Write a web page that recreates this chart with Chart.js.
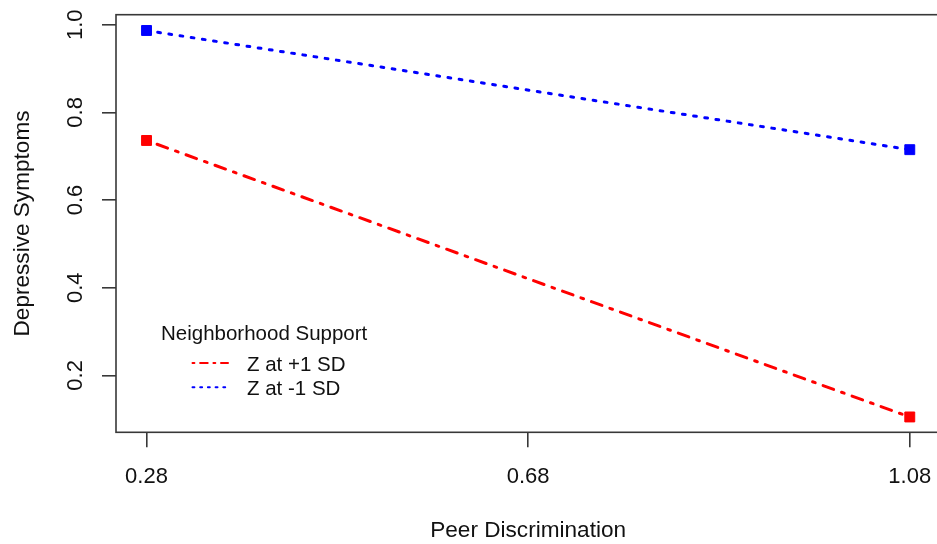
<!DOCTYPE html>
<html><head><meta charset="utf-8">
<script src="https://cdn.jsdelivr.net/npm/chart.js@4.4.1/dist/chart.umd.min.js"></script>
<style>
html,body{margin:0;padding:0;background:#fff;overflow:hidden}
#wrap{width:937px;height:544px;overflow:hidden;position:relative}
canvas{display:block}
</style></head>
<body><div id="wrap"><canvas id="c" width="950" height="544"></canvas></div>
<script>
const xValues = [0.28, 1.08];
const plusOneSD = [0.736, 0.105];
const minusOneSD = [0.987, 0.715];
const xTickValues = [0.28, 0.68, 1.08];
const xTickLabels = ['0.28', '0.68', '1.08'];
const yTickValues = [0.2, 0.4, 0.6, 0.8, 1.0];
const yTickLabels = ['0.2', '0.4', '0.6', '0.8', '1.0'];
const seriesLabels = ['Z at +1 SD', 'Z at -1 SD'];
const legendTitle = 'Neighborhood Support';
const xTitle = 'Peer Discrimination';
const yTitle = 'Depressive Symptoms';

const FONT = '"Liberation Sans", Arial, Helvetica, sans-serif';
const INK = '#111';
const BOX = '#383838';

const redDash = [2.8, 8.4, 11.2, 8.4];
const blueDash = [2.8, 8.5];
const redLegendDash = [1.9, 5.7, 7.6, 5.7];
const blueLegendDash = [1.9, 5.8];

const rPlugin = {
  id: 'rstyle',
  afterDraw(chart) {
    const ctx = chart.ctx, ca = chart.chartArea;
    const xs = chart.scales.x, ys = chart.scales.y;
    ctx.save();
    ctx.strokeStyle = BOX; ctx.lineWidth = 1.6;
    ctx.strokeRect(ca.left, ca.top, ca.right - ca.left, ca.bottom - ca.top);
    ctx.fillStyle = INK;
    ctx.font = '22px ' + FONT;
    ctx.textBaseline = 'alphabetic';
    ctx.textAlign = 'center';
    xTickValues.forEach((v, i) => ctx.fillText(xTickLabels[i], xs.getPixelForValue(v), ca.bottom + 50.4));
    yTickValues.forEach((v, i) => {
      ctx.save();
      ctx.translate(ca.left - 34.5, ys.getPixelForValue(v));
      ctx.rotate(-Math.PI / 2);
      ctx.fillText(yTickLabels[i], 0, 0);
      ctx.restore();
    });
    ctx.font = '22.6px ' + FONT;
    ctx.fillText(xTitle, (ca.left + ca.right) / 2, ca.bottom + 105);
    ctx.save();
    ctx.translate(ca.left - 87.5, (ca.top + ca.bottom) / 2);
    ctx.rotate(-Math.PI / 2);
    ctx.fillText(yTitle, 0, 0);
    ctx.restore();

    // legend
    ctx.font = '20.5px ' + FONT;
    ctx.textAlign = 'left';
    ctx.fillText(legendTitle, 161, 340);
    const ds = chart.data.datasets;
    const rows = [
      {y: 363, ty: 370.7, dash: redLegendDash},
      {y: 387.3, ty: 395, dash: blueLegendDash}
    ];
    rows.forEach((r, i) => {
      ctx.save();
      ctx.strokeStyle = ds[i].borderColor;
      ctx.lineWidth = 2;
      ctx.lineCap = 'round';
      ctx.setLineDash(r.dash);
      ctx.beginPath();
      ctx.moveTo(192.5, r.y);
      ctx.lineTo(228, r.y);
      ctx.stroke();
      ctx.restore();
      ctx.fillText(ds[i].label, 247, r.ty);
    });
    ctx.restore();
  }
};

new Chart(document.getElementById('c'), {
  type: 'line',
  data: {
    datasets: [
      {
        label: seriesLabels[0],
        data: xValues.map((x, i) => ({x: x, y: plusOneSD[i]})),
        borderColor: '#ff0000',
        backgroundColor: '#ff0000',
        borderWidth: 3,
        borderDash: redDash,
        borderCapStyle: 'round',
        pointStyle: 'rect',
        pointRadius: 7,
        pointBorderWidth: 1,
        pointBorderColor: '#ff0000',
        pointBackgroundColor: '#ff0000',
        fill: false,
        tension: 0
      },
      {
        label: seriesLabels[1],
        data: xValues.map((x, i) => ({x: x, y: minusOneSD[i]})),
        borderColor: '#0000ff',
        backgroundColor: '#0000ff',
        borderWidth: 3,
        borderDash: blueDash,
        borderCapStyle: 'round',
        pointStyle: 'rect',
        pointRadius: 7,
        pointBorderWidth: 1,
        pointBorderColor: '#0000ff',
        pointBackgroundColor: '#0000ff',
        fill: false,
        tension: 0
      }
    ]
  },
  options: {
    responsive: false,
    animation: false,
    devicePixelRatio: 1,
    layout: {padding: {top: 14.7, left: 102, bottom: 96.7, right: 9.7}},
    plugins: {legend: {display: false}, tooltip: {enabled: false}},
    scales: {
      x: {
        type: 'linear',
        min: 0.248, max: 1.112,
        afterBuildTicks: s => { s.ticks = xTickValues.map(v => ({value: v})); },
        ticks: {display: false},
        grid: {drawOnChartArea: false, drawTicks: true, tickLength: 15, color: BOX, lineWidth: 1.6},
        border: {display: false}
      },
      y: {
        type: 'linear',
        min: 0.070, max: 1.023,
        afterBuildTicks: s => { s.ticks = yTickValues.map(v => ({value: v})); },
        ticks: {display: false},
        grid: {drawOnChartArea: false, drawTicks: true, tickLength: 14, color: BOX, lineWidth: 1.6},
        border: {display: false}
      }
    }
  },
  plugins: [rPlugin]
});
</script>
</body></html>
